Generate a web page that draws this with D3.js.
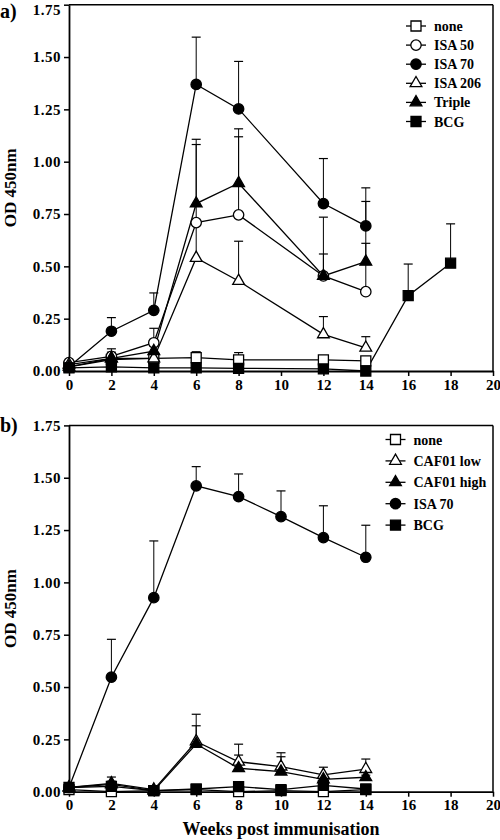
<!DOCTYPE html>
<html>
<head>
<meta charset="utf-8">
<script src="https://cdn.jsdelivr.net/npm/d3@7"></script>
<style>
  html, body { margin: 0; padding: 0; background: #fff; }
  svg { display: block; }
  text { font-family: "Liberation Serif", "Times New Roman", serif; font-weight: bold; fill: #000; }
</style>
</head>
<body>
<svg id="chart" width="500" height="840"></svg>
<script>
// ---------- DATA ----------
const xTicks = [0, 2, 4, 6, 8, 10, 12, 14, 16, 18, 20];
const yTicks = [0, 0.25, 0.5, 0.75, 1.0, 1.25, 1.5, 1.75];

// Panel a
const weeksA = [0, 2, 4, 6, 8, 12, 14];
const weeksA_BCG = [0, 2, 4, 6, 8, 12, 14, 16, 18];
const namesA = ["none", "ISA 50", "ISA 70", "ISA 206", "Triple", "BCG"];
const noneA     = [0.02, 0.055, 0.06, 0.064, 0.053, 0.053, 0.048];
const noneA_err = [0, 0.005, 0.005, 0.028, 0.035, 0.008, 0.008];
const isa50A     = [0.04, 0.07, 0.135, 0.709, 0.746, 0.454, 0.379];
const isa50A_err = [0, 0.036, 0.069, 0.373, 0.373, 0.105, 0.231];
const isa70A     = [0.02, 0.19, 0.29, 1.369, 1.252, 0.80, 0.693];
const isa70A_err = [0, 0.065, 0.083, 0.226, 0.227, 0.215, 0.182];
const isa206A     = [0.03, 0.06, 0.06, 0.54, 0.43, 0.175, 0.111];
const isa206A_err = [0, 0.01, 0.01, 0.16, 0.19, 0.085, 0.053];
const tripleA     = [0.02, 0.06, 0.095, 0.80, 0.897, 0.454, 0.522];
const tripleA_err = [0, 0.03, 0.025, 0.307, 0.26, 0.281, 0.288];
const bcgA     = [0.015, 0.02, 0.015, 0.015, 0.013, 0.01, 0.0, 0.36, 0.515];
const bcgA_err = [0, 0, 0, 0, 0, 0, 0, 0.151, 0.188];

// Panel b
const weeksB = [0, 2, 4, 6, 8, 10, 12, 14];
const namesB = ["none", "CAF01 low", "CAF01 high", "ISA 70", "BCG"];
const noneB     = [0.01, 0.0, 0.005, 0.01, 0.0, 0.005, 0.0, 0.01];
const noneB_err = [0, 0, 0, 0, 0, 0, 0, 0];
const cafLowB     = [0.02, 0.04, 0.01, 0.24, 0.143, 0.12, 0.08, 0.108];
const cafLowB_err = [0, 0.03, 0, 0.13, 0.084, 0.066, 0.037, 0.048];
const cafHighB     = [0.02, 0.035, 0.005, 0.228, 0.112, 0.096, 0.059, 0.069];
const cafHighB_err = [0, 0.015, 0, 0.087, 0.063, 0.071, 0.01, 0.01];
const isa70B     = [0.02, 0.547, 0.927, 1.461, 1.41, 1.314, 1.214, 1.12];
const isa70B_err = [0, 0.181, 0.271, 0.092, 0.108, 0.123, 0.152, 0.153];
const bcgB     = [0.02, 0.025, 0.005, 0.013, 0.024, 0.01, 0.03, 0.013];
const bcgB_err = [0, 0, 0, 0, 0, 0, 0, 0];

// ---------- STYLES ----------
const symStyle = {
  "none":       { type: d3.symbolSquare,   fill: false, size: 100 },
  "ISA 50":     { type: d3.symbolCircle,   fill: false, size: 85 },
  "ISA 70":     { type: d3.symbolCircle,   fill: true,  size: 85 },
  "ISA 206":    { type: d3.symbolTriangle, fill: false, size: 60 },
  "Triple":     { type: d3.symbolTriangle, fill: true,  size: 60 },
  "BCG":        { type: d3.symbolSquare,   fill: true,  size: 100 },
  "CAF01 low":  { type: d3.symbolTriangle, fill: false, size: 60 },
  "CAF01 high": { type: d3.symbolTriangle, fill: true,  size: 60 }
};

function mk(name, weeks, vals, errs) {
  return { name, pts: weeks.map((w, i) => ({ x: w, y: vals[i], e: errs[i] })) };
}
const seriesA = [
  mk("none", weeksA, noneA, noneA_err),
  mk("ISA 50", weeksA, isa50A, isa50A_err),
  mk("ISA 70", weeksA, isa70A, isa70A_err),
  mk("ISA 206", weeksA, isa206A, isa206A_err),
  mk("Triple", weeksA, tripleA, tripleA_err),
  mk("BCG", weeksA_BCG, bcgA, bcgA_err)
];
const seriesB = [
  mk("none", weeksB, noneB, noneB_err),
  mk("CAF01 low", weeksB, cafLowB, cafLowB_err),
  mk("CAF01 high", weeksB, cafHighB, cafHighB_err),
  mk("ISA 70", weeksB, isa70B, isa70B_err),
  mk("BCG", weeksB, bcgB, bcgB_err)
];

const svg = d3.select("#chart");
const x = d3.scaleLinear().domain([0, 20]).range([69, 493]);

function panel(cfg) {
  const y = d3.scaleLinear().domain([0, 1.75]).range([cfg.bottom, cfg.top]);
  const g = svg.append("g");

  // box top & right
  g.append("line").attr("x1", x(0)).attr("x2", x(20)).attr("y1", y(1.75)).attr("y2", y(1.75))
    .attr("stroke", "#000").attr("stroke-width", 1.5);
  g.append("line").attr("x1", x(20)).attr("x2", x(20)).attr("y1", y(1.75)).attr("y2", y(0))
    .attr("stroke", "#000").attr("stroke-width", 1.5);

  const ax = g.append("g").attr("transform", `translate(0,${y(0)})`)
    .call(d3.axisBottom(x).tickValues(xTicks).tickFormat(d3.format("d")).tickSize(5).tickSizeOuter(0).tickPadding(3));
  const ay = g.append("g").attr("transform", `translate(${x(0)},0)`)
    .call(d3.axisLeft(y).tickValues(yTicks).tickFormat(d3.format(".2f")).tickSize(5).tickSizeOuter(0).tickPadding(3));
  [ax, ay].forEach(a => {
    a.selectAll("path.domain").attr("stroke", "#000").attr("stroke-width", 1.8);
    a.selectAll(".tick line").attr("stroke", "#000").attr("stroke-width", 1.5);
    a.selectAll(".tick text").style("font-family", '"Liberation Serif", serif')
      .style("font-weight", "bold").style("font-size", "15px").attr("fill", "#000");
  });
  ay.selectAll(".tick text").attr("letter-spacing", "0.5px");
  // keep the topmost tick label inside the page
  ay.selectAll(".tick text").filter(d => d === 1.75).attr("dy", cfg.topDy);

  const line = d3.line().x(d => x(d.x)).y(d => y(d.y));
  // lines
  cfg.series.forEach(s => {
    g.append("path").datum(s.pts).attr("d", line).attr("fill", "none")
      .attr("stroke", "#000").attr("stroke-width", 1.3);
  });
  // error bars (upper only)
  cfg.series.forEach(s => {
    const eb = g.append("g");
    s.pts.filter(p => p.e > 0).forEach(p => {
      eb.append("line").attr("x1", x(p.x)).attr("x2", x(p.x)).attr("y1", y(p.y)).attr("y2", y(p.y + p.e))
        .attr("stroke", "#000").attr("stroke-width", 1);
      eb.append("line").attr("x1", x(p.x) - 4.5).attr("x2", x(p.x) + 4.5).attr("y1", y(p.y + p.e)).attr("y2", y(p.y + p.e))
        .attr("stroke", "#000").attr("stroke-width", 1.2);
    });
  });
  // symbols
  cfg.series.forEach(s => {
    const st = symStyle[s.name];
    g.append("g").selectAll("path").data(s.pts).join("path")
      .attr("transform", d => `translate(${x(d.x)},${y(d.y)})`)
      .attr("d", d3.symbol().type(st.type).size(st.size))
      .attr("fill", st.fill ? "#000" : "#fff").attr("stroke", "#000").attr("stroke-width", 1.3);
  });

  // legend
  const lg = g.append("g");
  cfg.series.forEach((s, i) => {
    const st = symStyle[s.name];
    const cy = cfg.legY + i * cfg.legStep;
    lg.append("line").attr("x1", cfg.legX - 10).attr("x2", cfg.legX + 10).attr("y1", cy).attr("y2", cy)
      .attr("stroke", "#000").attr("stroke-width", 1.3);
    lg.append("path").attr("transform", `translate(${cfg.legX},${cy})`)
      .attr("d", d3.symbol().type(st.type).size(st.size))
      .attr("fill", st.fill ? "#000" : "#fff").attr("stroke", "#000").attr("stroke-width", 1.3);
    lg.append("text").attr("x", cfg.legX + 18).attr("y", cy + 5).style("font-size", "14px").text(s.name);
  });

  // panel label
  g.append("text").attr("x", 0).attr("y", cfg.labelY).style("font-size", "20px").text(cfg.label);
  // y title
  g.append("text").attr("transform", `translate(16,${(cfg.top + cfg.bottom) / 2}) rotate(-90)`)
    .attr("text-anchor", "middle").style("font-size", "17px").text("OD 450nm");
}

panel({ series: seriesA, top: 4.7, bottom: 371, legX: 416, legY: 26, legStep: 19.1, label: "a)", labelY: 18, topDy: "0.62em" });
panel({ series: seriesB, top: 425.4, bottom: 791.7, legX: 395.5, legY: 439.5, legStep: 21.4, label: "b)", labelY: 432, topDy: "0.32em" });

svg.append("text").attr("x", (x(0) + x(20)) / 2).attr("y", 835).attr("text-anchor", "middle")
  .style("font-size", "18px").text("Weeks post immunisation");
</script>
</body>
</html>
